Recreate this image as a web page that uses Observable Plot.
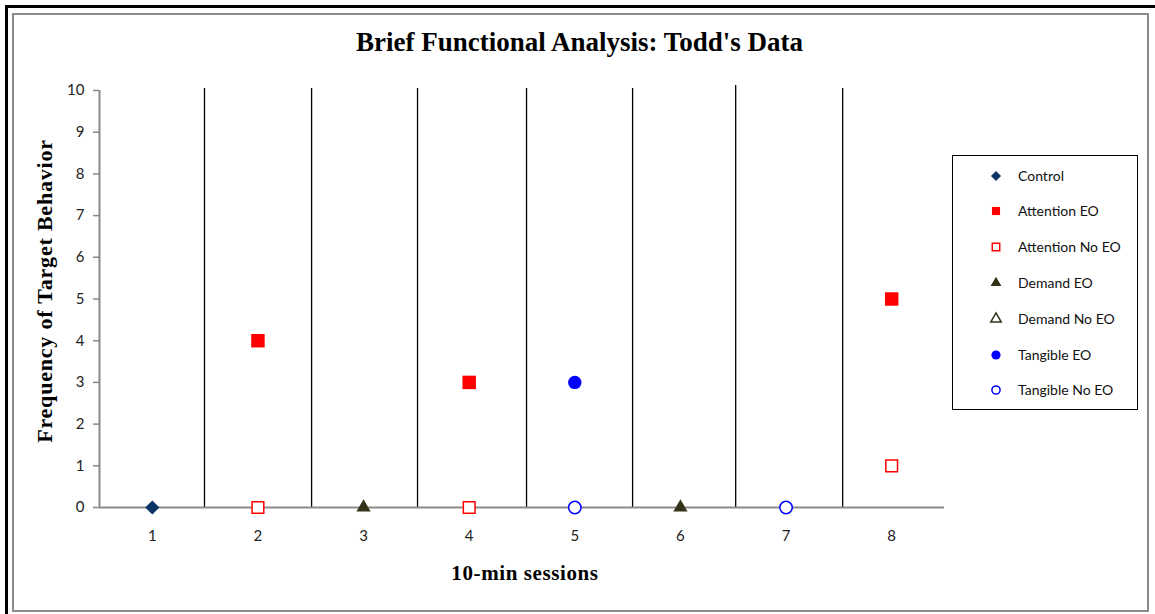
<!DOCTYPE html>
<html><head><meta charset="utf-8">
<script src="https://cdn.jsdelivr.net/npm/d3@7"></script>
<script src="https://cdn.jsdelivr.net/npm/@observablehq/plot@0.6"></script>
<style>
html,body{margin:0;padding:0;background:#fff;overflow:hidden;}
#wrap{position:relative;width:1155px;height:614px;overflow:hidden;background:#fff;}
#barTop{position:absolute;left:5px;top:5px;width:1150px;height:3px;background:#000;}
#barLeft{position:absolute;left:5px;top:5px;width:3px;height:609px;background:#000;}
#inner{position:absolute;left:12px;top:13px;width:1133px;height:595px;border:2px solid #8a8a8a;}
#chart{position:absolute;left:0;top:0;}
.lbl{position:absolute;font-family:"Liberation Serif",serif;font-weight:bold;color:#000;white-space:nowrap;}
#title{left:0;width:1159px;top:27px;text-align:center;font-size:27px;}
#ylab{left:45px;top:291px;font-size:22px;letter-spacing:0.8px;transform:translate(-50%,-50%) rotate(-90deg);}
#xlab{left:525px;top:573px;font-size:21px;letter-spacing:0.6px;transform:translate(-50%,-50%);}
#legend{position:absolute;left:952px;top:155px;width:184px;height:253px;border:1.5px solid #000;background:#fff;}
.row{position:absolute;left:0;height:20px;}
.row svg{position:absolute;left:33px;top:0;}
.row span{position:absolute;left:65px;top:0;font-family:Lato,"Open Sans",sans-serif;font-size:14px;color:#111;white-space:nowrap;line-height:20px;}
</style></head><body>
<div id="wrap">
<div id="barTop"></div>
<div id="barLeft"></div>
<div id="inner"></div>
<div id="chart"></div>
<div id="title" class="lbl">Brief Functional Analysis: Todd's Data</div>
<div id="ylab" class="lbl">Frequency of Target Behavior</div>
<div id="xlab" class="lbl">10-min sessions</div>
<div id="legend"></div>
</div>
<script>
// ---- data ----
const sessions = [1, 2, 3, 4, 5, 6, 7, 8];
const yTicks = [0, 1, 2, 3, 4, 5, 6, 7, 8, 9, 10];
const seriesNames = ["Control", "Attention EO", "Attention No EO", "Demand EO", "Demand No EO", "Tangible EO", "Tangible No EO"];
const controlX = [1],        controlY = [0];
const attnEOX = [2, 4, 8],   attnEOY = [4, 3, 5];
const attnNoEOX = [2, 4, 8], attnNoEOY = [0, 0, 1];
const demandEOX = [3, 6],    demandEOY = [0, 0];
const demandNoEOX = [],      demandNoEOY = [];
const tangEOX = [5],         tangEOY = [3];
const tangNoEOX = [5, 7],    tangNoEOY = [0, 0];
// phase-change lines between sessions (session units)
const phaseLines = [1.494, 2.508, 3.511, 4.543, 5.547, 6.523, 7.536];
const phaseTops  = [10.05, 10.05, 10.05, 10.05, 10.05, 10.12, 10.05];

// ---- styles ----
const seriesX = [controlX, attnEOX, attnNoEOX, demandEOX, demandNoEOX, tangEOX, tangNoEOX];
const seriesY = [controlY, attnEOY, attnNoEOY, demandEOY, demandNoEOY, tangEOY, tangNoEOY];
const colors  = ["#0b3566", "#ff0000", "#ff0000", "#33331a", "#33331a", "#0000ff", "#0000ff"];
const symbols = ["diamond2", "square", "square", "triangle", "triangle", "circle", "circle"];
const filled  = [true, true, false, true, false, true, false];
const radii   = [6.4, 7.6, 6.6, 5.3, 5.3, 6.7, 6.2];

const pointMarks = seriesNames.map((name, i) => {
  const pts = seriesX[i].map((x, j) => ({x, y: seriesY[i][j]}));
  return Plot.dot(pts, {
    x: "x", y: "y", symbol: () => symbols[i], r: radii[i],
    fill: filled[i] ? colors[i] : "#fff",
    stroke: filled[i] ? "none" : colors[i],
    strokeWidth: 1.5
  });
});

const phaseData = phaseLines.map((x, i) => ({x, top: phaseTops[i]}));

const chart = Plot.plot({
  width: 1155, height: 614,
  marginLeft: 99, marginRight: 211, marginTop: 90, marginBottom: 107,
  x: {domain: [0.5, 8.5]},
  y: {domain: [0, 10]},
  style: {background: "transparent", fontFamily: "Lato, 'Open Sans', sans-serif", fontSize: "15px", color: "#222"},
  marks: [
    Plot.ruleX(phaseData, {x: "x", y1: 0, y2: "top", stroke: "#000", strokeWidth: 1.3}),
    Plot.ruleX([0.5], {y1: 0, y2: 10, stroke: "#8a8a8a", strokeWidth: 2}),
    Plot.ruleY([0], {x1: 0.5, x2: 8.5, stroke: "#8a8a8a", strokeWidth: 2}),
    Plot.axisY(yTicks, {tickSize: 6, tickPadding: 9, stroke: "#8a8a8a", strokeWidth: 1.5, fill: "#222", fontSize: 15, label: null}),
    Plot.axisX(sessions, {tickSize: 0, tickPadding: 23, fill: "#222", fontSize: 15, label: null}),
    ...pointMarks
  ]
});
document.getElementById("chart").appendChild(chart);

// ---- legend ----
const legend = document.getElementById("legend");
const legendR = [4.6, 4.6, 4.2, 4.0, 3.9, 4.6, 4.1];
const symMap = {diamond2: d3.symbolDiamond2, square: d3.symbolSquare, triangle: d3.symbolTriangle, circle: d3.symbolCircle};
seriesNames.forEach((name, i) => {
  const row = document.createElement("div");
  row.className = "row";
  row.style.top = (9.5 + i * 35.8) + "px";
  const svg = d3.create("svg").attr("width", 20).attr("height", 20);
  svg.append("path")
    .attr("transform", "translate(10,10)")
    .attr("d", d3.symbol(symMap[symbols[i]], Math.PI * legendR[i] * legendR[i])())
    .attr("fill", filled[i] ? colors[i] : "#fff")
    .attr("stroke", filled[i] ? "none" : colors[i])
    .attr("stroke-width", 1.5);
  row.appendChild(svg.node());
  const sp = document.createElement("span");
  sp.textContent = name;
  row.appendChild(sp);
  legend.appendChild(row);
});
</script>
</body></html>
